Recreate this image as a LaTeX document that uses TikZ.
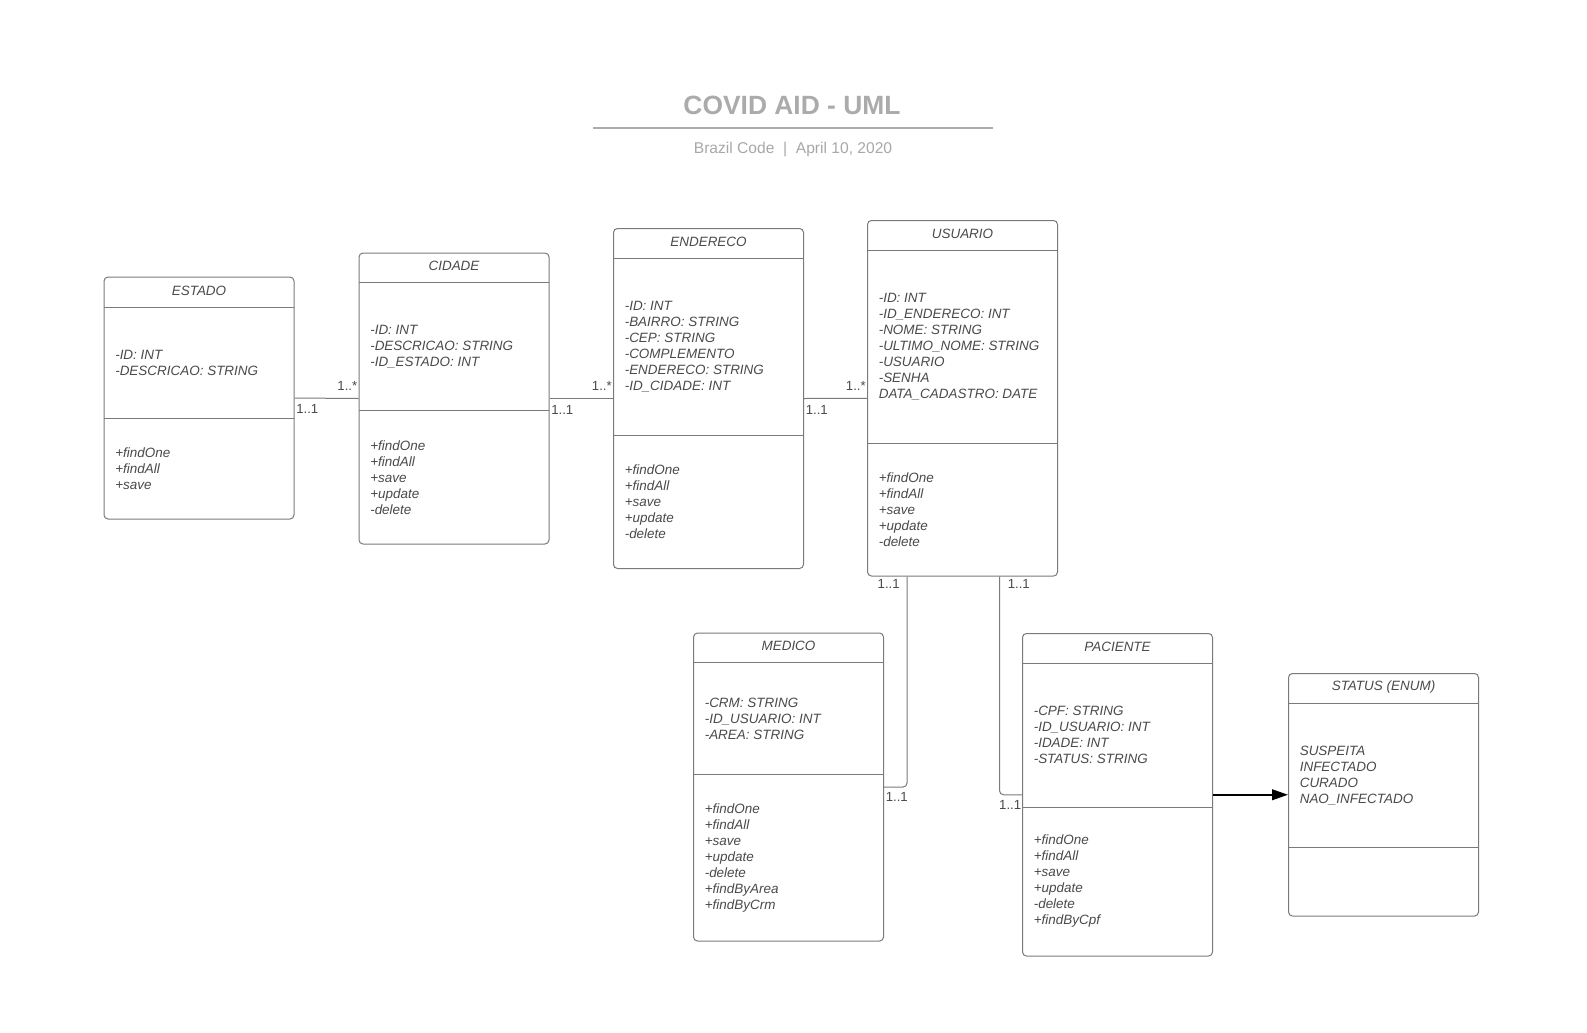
\documentclass[tikz,border=0pt]{standalone}
\usepackage{fontspec}
\setmainfont{Liberation Sans}
\usetikzlibrary{calc,fit,arrows.meta}
\definecolor{txt}{HTML}{4A4A4A}
\definecolor{bord}{HTML}{7A7A7A}
\definecolor{ttl}{HTML}{ABABAB}
\definecolor{sub}{HTML}{A8A8A8}
\tikzset{
  classbox/.style={draw=bord, line width=0.75pt, rounded corners=3pt, inner sep=0pt},
  divline/.style={draw=bord, line width=0.75pt},
  ctitle/.style={font=\fontsize{10.1}{12}\selectfont\itshape, text=txt, inner sep=0pt},
  ctext/.style={font=\fontsize{10.1}{12}\selectfont\itshape, text=txt, inner sep=0pt, align=left, anchor=west},
  mult/.style={font=\fontsize{9.9}{12}\selectfont, text=txt, inner sep=0pt},
  assoc/.style={draw=bord, line width=0.75pt, rounded corners=3pt},
}
% #1 name, #2 left, #3 top, #4 bottom, #5 header bottom, #6 divider, #7 title, #8 attrs, #9 methods
\newcommand{\umlclass}[9]{%
  \node[classbox, fit={(#2,#3)({#2+190},#4)}] (#1) {};
  \draw[divline] (#2,#5) -- ({#2+190},#5);
  \draw[divline] (#2,#6) -- ({#2+190},#6);
  \node[ctitle] (#1-t) at ({#2+95},{(#3+#5)/2-1.5}) {#7};
  \node[ctext] (#1-a) at ({#2+11},{(#5+#6)/2}) {#8};
  \node[ctext] (#1-m) at ({#2+11},{(#6+#4)/2}) {#9};
}
\begin{document}
\begin{tikzpicture}[x=0.75pt,y=-0.75pt]
\useasboundingbox[fill=white] (0,0) rectangle (1587,1032);

% title
\node[font=\fontsize{19.8}{22}\selectfont\bfseries, text=ttl, inner sep=0pt] (title) at (792,105) {COVID AID - UML};
\coordinate (tl) at (593,127.5);
\coordinate (tr) at (993,127.5);
\draw[draw=ttl, line width=1.5pt] (tl) -- (tr);
\node[font=\fontsize{11.7}{13}\selectfont, text=sub, inner sep=0pt] (subtitle) at (793,149.5) {Brazil Code\ \ |\ \ April 10, 2020};

\umlclass{estado}{104}{277}{519}{307}{418}{ESTADO}
  {-ID: INT\\-DESCRICAO: STRING}
  {+findOne\\+findAll\\+save}
\umlclass{cidade}{359}{253}{544}{282.5}{410.5}{CIDADE}
  {-ID: INT\\-DESCRICAO: STRING\\-ID\_ESTADO: INT}
  {+findOne\\+findAll\\+save\\+update\\-delete}
\umlclass{endereco}{613.5}{228.5}{568.5}{258.5}{435.5}{ENDERECO}
  {-ID: INT\\-BAIRRO: STRING\\-CEP: STRING\\-COMPLEMENTO\\-ENDERECO: STRING\\-ID\_CIDADE: INT}
  {+findOne\\+findAll\\+save\\+update\\-delete}
\umlclass{usuario}{867.5}{220.5}{576}{250.5}{443.5}{USUARIO}
  {-ID: INT\\-ID\_ENDERECO: INT\\-NOME: STRING\\-ULTIMO\_NOME: STRING\\-USUARIO\\-SENHA\\DATA\_CADASTRO: DATE}
  {+findOne\\+findAll\\+save\\+update\\-delete}
\umlclass{medico}{693.5}{633}{941}{662.5}{774.5}{MEDICO}
  {-CRM: STRING\\-ID\_USUARIO: INT\\-AREA: STRING}
  {+findOne\\+findAll\\+save\\+update\\-delete\\+findByArea\\+findByCrm}
\umlclass{paciente}{1022.5}{633.5}{956}{663.5}{807}{PACIENTE}
  {-CPF: STRING\\-ID\_USUARIO: INT\\-IDADE: INT\\-STATUS: STRING}
  {+findOne\\+findAll\\+save\\+update\\-delete\\+findByCpf}
\umlclass{status}{1288.5}{673.5}{916}{703.5}{847.5}{STATUS (ENUM)}
  {SUSPEITA\\INFECTADO\\CURADO\\NAO\_INFECTADO}
  {}

% associations
\draw[assoc] (estado.east) -- (cidade.west);
\node[mult, anchor=east] (m1a) at ($(cidade.west)+(-1,-12.5)$) {1..*};
\node[mult, anchor=west] (m1b) at ($(estado.east)+(1.5,11)$) {1..1};

\draw[assoc] (cidade.east) -- (endereco.west);
\node[mult, anchor=east] (m2a) at ($(endereco.west)+(-1,-12.5)$) {1..*};
\node[mult, anchor=west] (m2b) at ($(cidade.east)+(1.5,11)$) {1..1};

\draw[assoc] (endereco.east) -- (usuario.west);
\node[mult, anchor=east] (m3a) at ($(usuario.west)+(-1,-12.5)$) {1..*};
\node[mult, anchor=west] (m3b) at ($(endereco.east)+(1.5,11)$) {1..1};

\coordinate (u1) at ($(usuario.south west)+(40,0)$);
\coordinate (u2) at ($(usuario.south west)+(132.5,0)$);
\draw[assoc] (u1) |- (medico.east);
\draw[assoc] (u2) |- (paciente.west);
\node[mult, anchor=east] (m4a) at ($(u1)+(-7,7)$) {1..1};
\node[mult, anchor=west] (m4b) at ($(medico.east)+(1.5,10)$) {1..1};
\node[mult, anchor=west] (m5a) at ($(u2)+(8,7)$) {1..1};
\node[mult, anchor=east] (m5b) at ($(paciente.west)+(-0.5,10)$) {1..1};

\draw[black, line width=1.4pt, -{Triangle[length=12pt,width=8pt]}] (paciente.east) -- (status.west);
\end{tikzpicture}
\end{document}
